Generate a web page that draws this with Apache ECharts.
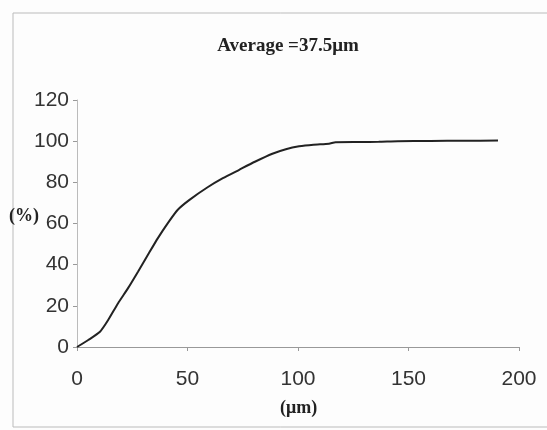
<!DOCTYPE html>
<html>
<head>
<meta charset="utf-8">
<script src="https://cdn.jsdelivr.net/npm/echarts@6/dist/echarts.min.js"></script>
<style>
    html, body { margin: 0; padding: 0; background: #fdfdfd; }
    #main { width: 547px; height: 430px; }
</style>
</head>
<body>
<div id="main"></div>
<script>
// particle size (um) and cumulative percentage
var sizes = [0, 5.1, 10.4, 14.1, 18.6, 23.1, 27.6, 32.1, 36.6, 41.1, 45.6, 50.9, 59.1, 66, 73.4, 80.5, 88.4, 94.5, 100.5, 107, 114, 117, 128, 136.5, 145, 160, 175, 190.5];
var percent = [0, 3.4, 7.4, 13.1, 21.3, 28.6, 36.6, 44.8, 52.9, 60.2, 66.7, 71.5, 77.6, 82, 86.1, 90, 93.9, 96.1, 97.5, 98.3, 98.8, 99.5, 99.6, 99.7, 100, 100.1, 100.2, 100.3];
var xTicks = [0, 50, 100, 150, 200];
var yTicks = [0, 20, 40, 60, 80, 100, 120];

$ = window.$ || function (f) { f(); };

$(function () {
    var dom = document.getElementById("main");
    var myChart = echarts.init(dom);
    var option = null;

    var points = [];
    for (var i = 0; i < sizes.length; i++) {
        points.push([sizes[i], percent[i]]);
    }

    option = {
        backgroundColor: '#fdfdfd',
        animation: false,
        title: {
            text: 'Average =37.5\u03bcm',
            left: 283,
            textAlign: 'center',
            top: 32,
            textStyle: {
                fontFamily: 'Liberation Serif',
                fontWeight: 'bold',
                fontSize: 19,
                color: '#222'
            }
        },
        grid: {
            left: 77,
            right: 28,
            top: 100,
            bottom: 83
        },
        xAxis: {
            type: 'value',
            min: xTicks[0],
            max: xTicks[xTicks.length - 1],
            interval: 50,
            axisLine: { lineStyle: { color: '#999', width: 1 } },
            axisTick: { show: true, length: 4, lineStyle: { color: '#999' } },
            axisLabel: {
                margin: 22,
                fontFamily: '"Liberation Sans Narrow", "Liberation Sans"',
                fontSize: 21,
                color: '#333'
            },
            splitLine: { show: false }
        },
        yAxis: {
            type: 'value',
            min: yTicks[0],
            max: yTicks[yTicks.length - 1],
            interval: 20,
            axisLine: { show: true, lineStyle: { color: '#bbb', width: 1 } },
            axisTick: { show: true, length: 4, lineStyle: { color: '#999' } },
            axisLabel: {
                margin: 8,
                fontFamily: '"Liberation Sans Narrow", "Liberation Sans"',
                fontSize: 21,
                color: '#333'
            },
            splitLine: { show: false }
        },
        graphic: [
            {
                type: 'rect',
                shape: { x: 13, y: 13, width: 540, height: 414 },
                style: { fill: 'none', stroke: '#bbb', lineWidth: 1 },
                silent: true
            },
            {
                type: 'text',
                left: 9,
                top: 207,
                style: {
                    text: '(%)',
                    font: 'bold 18px "Liberation Serif"',
                    fill: '#222'
                }
            },
            {
                type: 'text',
                left: 280,
                top: 399,
                style: {
                    text: '(\u03bcm)',
                    font: 'bold 18px "Liberation Serif"',
                    fill: '#222'
                }
            }
        ],
        series: [{
            type: 'line',
            data: points,
            smooth: 0.2,
            showSymbol: false,
            lineStyle: { color: '#222', width: 2 }
        }]
    };
    if (option && typeof option === "object") {
        myChart.setOption(option, true);
    }
});
</script>
</body>
</html>
